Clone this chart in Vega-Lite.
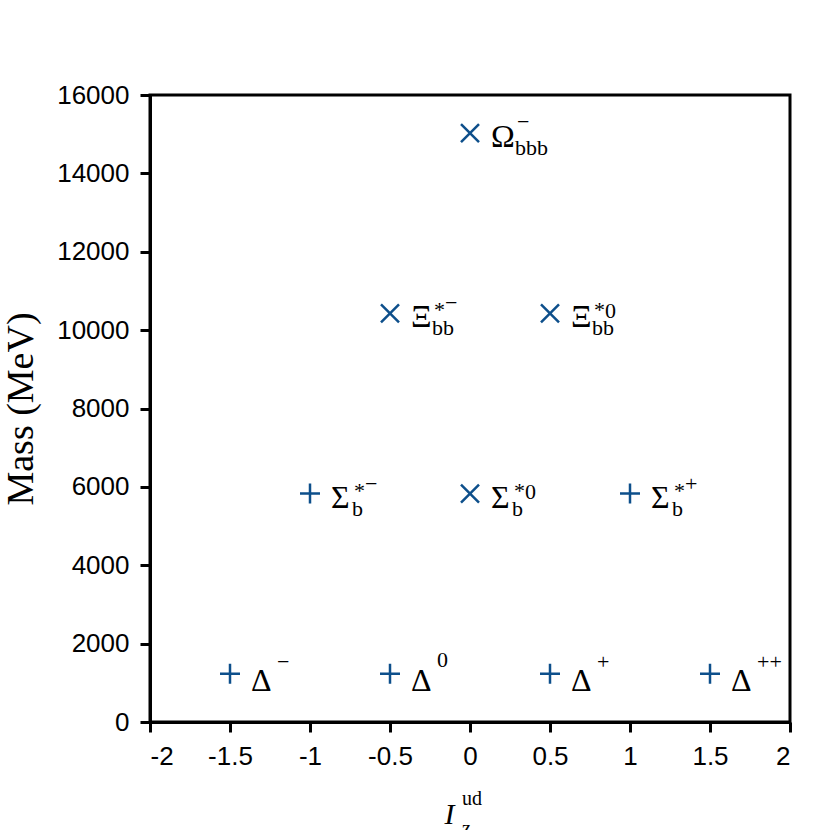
{
  "$schema": "https://vega.github.io/schema/vega-lite/v6.json",
  "width": 640,
  "height": 627,
  "autosize": {"type": "none"},
  "padding": {"left": 150, "top": 95, "right": 40, "bottom": 108},
  "background": "white",
  "config": {
    "view": {"stroke": "black", "strokeWidth": 3},
    "axis": {
      "grid": false,
      "domainColor": "black",
      "domainWidth": 3,
      "tickColor": "black",
      "tickWidth": 3,
      "tickSize": 10,
      "labelFont": "Liberation Sans",
      "labelFontSize": 26,
      "labelColor": "black",
      "labelPadding": 11,
      "titleFont": "Liberation Serif",
      "titleFontWeight": "normal",
      "titleColor": "black"
    },
    "text": {"font": "Liberation Serif", "color": "black", "align": "left", "baseline": "alphabetic"}
  },
  "datasets": {
    "baryons": [
      {"iz": -1.5, "mass": 1232, "mk": "plus", "g": "D", "base": "Δ", "sub": "", "star": "", "q": "−"},
      {"iz": -0.5, "mass": 1232, "mk": "plus", "g": "D", "base": "Δ", "sub": "", "star": "", "q": "0"},
      {"iz": 0.5, "mass": 1232, "mk": "plus", "g": "D", "base": "Δ", "sub": "", "star": "", "q": "+"},
      {"iz": 1.5, "mass": 1232, "mk": "plus", "g": "D", "base": "Δ", "sub": "", "star": "", "q": "++"},
      {"iz": -1, "mass": 5830, "mk": "plus", "g": "S", "base": "Σ", "sub": "b", "star": "*", "q": "−"},
      {"iz": 0, "mass": 5830, "mk": "cross", "g": "S", "base": "Σ", "sub": "b", "star": "*", "q": "0"},
      {"iz": 1, "mass": 5830, "mk": "plus", "g": "S", "base": "Σ", "sub": "b", "star": "*", "q": "+"},
      {"iz": -0.5, "mass": 10430, "mk": "cross", "g": "X", "base": "Ξ", "sub": "bb", "star": "*", "q": "−"},
      {"iz": 0.5, "mass": 10430, "mk": "cross", "g": "X", "base": "Ξ", "sub": "bb", "star": "*", "q": "0"},
      {"iz": 0, "mass": 15030, "mk": "cross", "g": "O", "base": "Ω", "sub": "bbb", "star": "", "q": "−"}
    ],
    "xtitle": [
      {"t": "ud", "iz": 0, "mass": 0, "part": "sup"},
      {"t": "z", "iz": 0, "mass": 0, "part": "sub"}
    ]
  },
  "data": {"name": "baryons"},
  "layer": [
    {
      "mark": {"type": "point", "filled": false, "strokeWidth": 2.5, "size": 400, "opacity": 1},
      "encoding": {
        "x": {
          "field": "iz",
          "type": "quantitative",
          "scale": {"domain": [-2, 2], "nice": false, "zero": false},
          "axis": {
            "values": [-2, -1.5, -1, -0.5, 0, 0.5, 1, 1.5, 2],
            "labelExpr": "'' + datum.value",
            "title": "I",
            "titleFontStyle": "italic",
            "titleFontSize": 30,
            "titleX": 299,
            "titleY": 101,
            "titleBaseline": "alphabetic",
            "titleAlign": "center"
          }
        },
        "y": {
          "field": "mass",
          "type": "quantitative",
          "scale": {"domain": [0, 16000], "nice": false},
          "axis": {
            "values": [0, 2000, 4000, 6000, 8000, 10000, 12000, 14000, 16000],
            "labelExpr": "'' + datum.value",
            "title": "Mass (MeV)",
            "titleFontSize": 38,
            "titlePadding": 16
          }
        },
        "shape": {"field": "mk", "type": "nominal", "scale": {"domain": ["plus", "cross"], "range": ["M-1,0L1,0M0,-1L0,1", "M-0.9,-0.9L0.9,0.9M-0.9,0.9L0.9,-0.9"]}, "legend": null},
        "color": {"value": "#0d4f8b"}
      }
    },
    {
      "transform": [{"filter": "datum.g != 'D'"}],
      "mark": {"type": "text", "fontSize": 32, "dx": 21, "dy": 14},
      "encoding": {"x": {"field": "iz", "type": "quantitative"}, "y": {"field": "mass", "type": "quantitative"}, "text": {"field": "base"}}
    },
    {
      "transform": [{"filter": "datum.g == 'D'"}],
      "mark": {"type": "text", "fontSize": 32, "dx": 21, "dy": 17},
      "encoding": {"x": {"field": "iz", "type": "quantitative"}, "y": {"field": "mass", "type": "quantitative"}, "text": {"field": "base"}}
    },
    {
      "transform": [{"filter": "datum.g == 'S' || datum.g == 'X'"}],
      "mark": {"type": "text", "fontSize": 22, "dx": 42, "dy": 22},
      "encoding": {"x": {"field": "iz", "type": "quantitative"}, "y": {"field": "mass", "type": "quantitative"}, "text": {"field": "sub"}}
    },
    {
      "transform": [{"filter": "datum.g == 'O'"}],
      "mark": {"type": "text", "fontSize": 22, "dx": 45, "dy": 22},
      "encoding": {"x": {"field": "iz", "type": "quantitative"}, "y": {"field": "mass", "type": "quantitative"}, "text": {"field": "sub"}}
    },
    {
      "transform": [{"filter": "datum.g == 'S' || datum.g == 'X'"}],
      "mark": {"type": "text", "fontSize": 22, "dx": 44, "dy": 4},
      "encoding": {"x": {"field": "iz", "type": "quantitative"}, "y": {"field": "mass", "type": "quantitative"}, "text": {"field": "star"}}
    },
    {
      "transform": [{"filter": "(datum.g == 'S' || datum.g == 'X') && datum.q == '0'"}],
      "mark": {"type": "text", "fontSize": 22, "dx": 55, "dy": 5},
      "encoding": {"x": {"field": "iz", "type": "quantitative"}, "y": {"field": "mass", "type": "quantitative"}, "text": {"field": "q"}}
    },
    {
      "transform": [{"filter": "(datum.g == 'S' || datum.g == 'X') && datum.q != '0'"}],
      "mark": {"type": "text", "fontSize": 22, "dx": 55, "dy": -3},
      "encoding": {"x": {"field": "iz", "type": "quantitative"}, "y": {"field": "mass", "type": "quantitative"}, "text": {"field": "q"}}
    },
    {
      "transform": [{"filter": "datum.g == 'O'"}],
      "mark": {"type": "text", "fontSize": 22, "dx": 47, "dy": -4},
      "encoding": {"x": {"field": "iz", "type": "quantitative"}, "y": {"field": "mass", "type": "quantitative"}, "text": {"field": "q"}}
    },
    {
      "transform": [{"filter": "datum.g == 'D' && datum.q == '0'"}],
      "mark": {"type": "text", "fontSize": 22, "dx": 47, "dy": -7},
      "encoding": {"x": {"field": "iz", "type": "quantitative"}, "y": {"field": "mass", "type": "quantitative"}, "text": {"field": "q"}}
    },
    {
      "transform": [{"filter": "datum.g == 'D' && datum.q != '0'"}],
      "mark": {"type": "text", "fontSize": 22, "dx": 47, "dy": -5},
      "encoding": {"x": {"field": "iz", "type": "quantitative"}, "y": {"field": "mass", "type": "quantitative"}, "text": {"field": "q"}}
    },
    {
      "data": {"name": "xtitle"},
      "transform": [{"filter": "datum.part == 'sup'"}],
      "mark": {"type": "text", "fontSize": 20, "dx": -8, "dy": 83, "clip": false},
      "encoding": {"x": {"field": "iz", "type": "quantitative"}, "y": {"field": "mass", "type": "quantitative"}, "text": {"field": "t"}}
    },
    {
      "data": {"name": "xtitle"},
      "transform": [{"filter": "datum.part == 'sub'"}],
      "mark": {"type": "text", "fontSize": 20, "dx": -8, "dy": 113, "clip": false},
      "encoding": {"x": {"field": "iz", "type": "quantitative"}, "y": {"field": "mass", "type": "quantitative"}, "text": {"field": "t"}}
    }
  ]
}
